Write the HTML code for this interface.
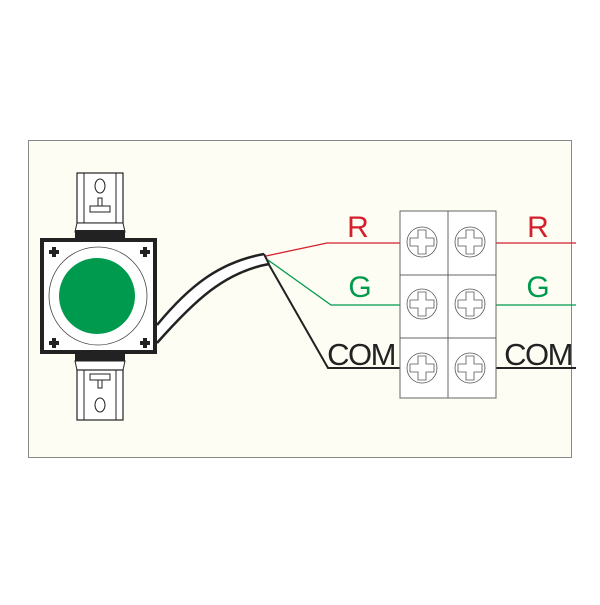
<!DOCTYPE html>
<html><head><style>body{margin:0;background:#fff}</style></head><body>
<svg width="600" height="600" viewBox="0 0 600 600" xmlns="http://www.w3.org/2000/svg" font-family="Liberation Sans, sans-serif">
<rect x="28.5" y="140.5" width="543" height="317" fill="#fdfdf3" stroke="#888" stroke-width="1"/>
<!-- top bracket -->
<rect x="77" y="173" width="46" height="50" fill="#fff" stroke="#222" stroke-width="1.2"/>
<line x1="84" y1="173" x2="84" y2="223" stroke="#222"/><line x1="116" y1="173" x2="116" y2="223" stroke="#222"/>
<ellipse cx="100" cy="186" rx="5" ry="7" fill="none" stroke="#222"/>
<rect x="98" y="198" width="4" height="8" fill="none" stroke="#222"/>
<rect x="90" y="206" width="20" height="6" fill="none" stroke="#222"/>
<path d="M77 223 L123 223 L125 232 L75 232 Z" fill="#fff" stroke="#222"/>
<rect x="75" y="230" width="50" height="8" fill="#222"/>
<!-- bottom bracket -->
<rect x="75" y="353" width="50" height="8" fill="#222"/>
<path d="M75 361 L125 361 L123 370 L77 370 Z" fill="#fff" stroke="#222"/>
<rect x="77" y="370" width="46" height="50" fill="#fff" stroke="#222" stroke-width="1.2"/>
<line x1="84" y1="370" x2="84" y2="420" stroke="#222"/><line x1="116" y1="370" x2="116" y2="420" stroke="#222"/>
<rect x="90" y="374" width="20" height="6" fill="none" stroke="#222"/>
<rect x="98" y="380" width="4" height="8" fill="none" stroke="#222"/>
<ellipse cx="100" cy="405" rx="5" ry="7" fill="none" stroke="#222"/>
<!-- body -->
<rect x="42" y="240" width="113" height="112" fill="#fff" stroke="#222" stroke-width="4"/>
<circle cx="98" cy="296" r="49" fill="#fff" stroke="#444" stroke-width="0.8"/>
<circle cx="97" cy="296" r="38" fill="#009a4e"/>
<g fill="#222">
<path d="M52 247h4v3h3v4h-3v3h-4v-3h-3v-4h3z"/>
<path d="M143 247h4v3h3v4h-3v3h-4v-3h-3v-4h3z"/>
<path d="M52 338h4v3h3v4h-3v3h-4v-3h-3v-4h3z"/>
<path d="M143 338h4v3h3v4h-3v3h-4v-3h-3v-4h3z"/>
</g>
<!-- cable -->
<path d="M157 325 C190 285 220 262 264 254 L269 264 C225 272 195 300 157 343 Z" fill="#fff"/>
<path d="M157 325 C190 285 220 262 264 254" fill="none" stroke="#222" stroke-width="2.5"/>
<path d="M157 343 C195 300 225 272 269 264" fill="none" stroke="#222" stroke-width="2.5"/>
<line x1="264" y1="254" x2="269" y2="264" stroke="#222" stroke-width="2"/>
<!-- wires -->
<polyline points="266,256 327,243 400,243" fill="none" stroke="#d4202e" stroke-width="1.3"/>
<polyline points="268,260 331,305 400,305" fill="none" stroke="#009a4e" stroke-width="1.3"/>
<polyline points="268,263 328,368 400,368" fill="none" stroke="#222" stroke-width="2"/>
<line x1="496" y1="243" x2="576" y2="243" stroke="#d4202e" stroke-width="1.3"/>
<line x1="496" y1="305" x2="576" y2="305" stroke="#009a4e" stroke-width="1.3"/>
<line x1="496" y1="368" x2="576" y2="368" stroke="#222" stroke-width="2"/>
<!-- labels -->
<text x="358" y="237" font-size="30" fill="#d4202e" text-anchor="middle">R</text>
<text x="538" y="237" font-size="30" fill="#d4202e" text-anchor="middle">R</text>
<text x="360" y="297" font-size="30" fill="#009a4e" text-anchor="middle">G</text>
<text x="538" y="297" font-size="30" fill="#009a4e" text-anchor="middle">G</text>
<text x="361" y="365" font-size="31" fill="#222" text-anchor="middle" letter-spacing="-1.5">COM</text>
<text x="538" y="365" font-size="31" fill="#222" text-anchor="middle" letter-spacing="-1.5">COM</text>
<!-- terminal block -->
<rect x="400" y="211" width="96" height="187" fill="#fff" stroke="#666" stroke-width="1"/>
<line x1="448" y1="211" x2="448" y2="398" stroke="#666"/>
<line x1="400" y1="275" x2="496" y2="275" stroke="#666"/>
<line x1="400" y1="338" x2="496" y2="338" stroke="#666"/>
<g fill="none" stroke="#555" stroke-width="0.8">
<g id="s"><circle cx="422" cy="242" r="15"/><path d="M418 230h8v8h8v8h-8v8h-8v-8h-8v-8h8z"/></g>
<use href="#s" x="48"/><use href="#s" y="62"/><use href="#s" x="48" y="62"/><use href="#s" y="126"/><use href="#s" x="48" y="126"/>
</g>
</svg>
</body></html>
